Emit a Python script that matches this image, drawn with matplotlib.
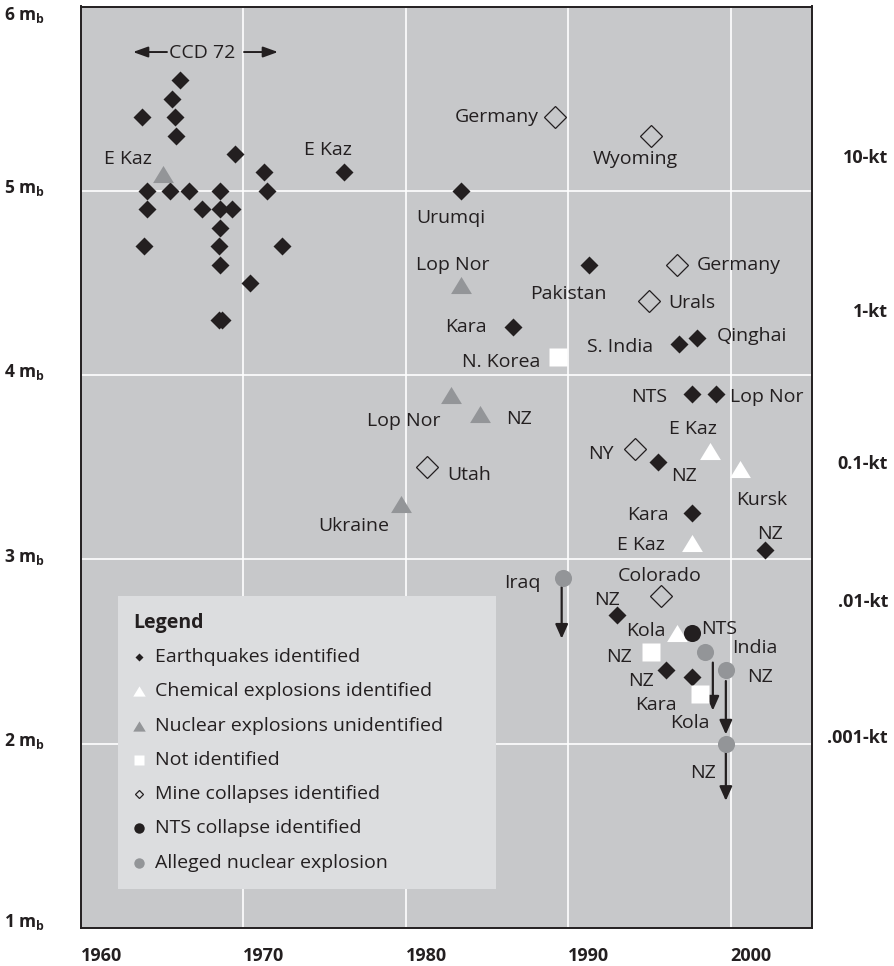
import matplotlib
matplotlib.use('Agg')
import matplotlib.pyplot as plt
import matplotlib.transforms as mtransforms
from matplotlib.path import Path
from matplotlib.patches import Rectangle

plt.rcParams['font.family'] = ['Open Sans', 'DejaVu Sans']
plt.rcParams['mathtext.fontset'] = 'custom'
plt.rcParams['mathtext.rm'] = 'Open Sans:bold'
plt.rcParams['mathtext.it'] = 'Open Sans:bold'
plt.rcParams['mathtext.bf'] = 'Open Sans:bold'

INK = '#231f20'
BG = '#c7c8ca'
LEGEND_BG = '#dcdddf'
GREY = '#939598'

# --- data: (year, magnitude mb) ---
quake_year = [1966.1, 1965.6, 1963.8, 1965.8, 1965.9, 1969.5, 1971.3, 1976.2,
              1964.1, 1965.5, 1966.7, 1968.6, 1971.5, 1964.1, 1967.5, 1968.6,
              1969.3, 1968.6, 1963.9, 1968.5, 1972.4, 1968.6, 1970.4, 1968.5,
              1968.7, 1983.4, 1991.3, 1986.6, 1996.8, 1997.9, 1997.6, 1999.1,
              1995.5, 1997.6, 2002.1, 1993.0, 1996.0, 1997.6]
quake_mb = [5.6, 5.5, 5.4, 5.4, 5.3, 5.2, 5.1, 5.1,
            5.0, 5.0, 5.0, 5.0, 5.0, 4.9, 4.9, 4.9,
            4.9, 4.8, 4.7, 4.7, 4.7, 4.6, 4.5, 4.3,
            4.3, 5.0, 4.6, 4.26, 4.17, 4.2, 3.9, 3.9,
            3.53, 3.25, 3.05, 2.7, 2.4, 2.36]

chem_year = [1998.7, 2000.6, 1997.6, 1996.7]
chem_mb = [3.59, 3.49, 3.09, 2.6]

nuclear_year = [1965.1, 1983.4, 1982.8, 1984.6, 1979.7]
nuclear_mb = [5.09, 4.49, 3.89, 3.79, 3.3]

notid_year = [1989.4, 1995.1, 1998.1]
notid_mb = [4.1, 2.5, 2.27]

mine_year = [1989.2, 1995.1, 1996.7, 1995.0, 1981.3, 1994.1, 1995.7]
mine_mb = [5.4, 5.3, 4.6, 4.4, 3.5, 3.6, 2.8]

nts_year = [1997.6]
nts_mb = [2.6]

alleged_year = [1989.7, 1998.4, 1999.7, 1999.7]
alleged_mb = [2.9, 2.5, 2.4, 2.0]

# downward arrows (upper bounds) below alleged events
arrow_year = [1989.6, 1998.9, 1999.7, 1999.7]
arrow_top = [2.85, 2.44, 2.34, 1.97]
arrow_tip = [2.57, 2.18, 2.05, 1.69]

place_names = ['E Kaz', 'E Kaz', 'Urumqi', 'Lop Nor', 'Germany', 'Wyoming',
               'Pakistan', 'Germany', 'Urals', 'Kara', 'N. Korea', 'S. India',
               'Qinghai', 'NTS', 'Lop Nor', 'Lop Nor', 'NZ', 'E Kaz', 'NY',
               'NZ', 'Utah', 'Kursk', 'Kara', 'E Kaz', 'NZ', 'Ukraine',
               'Colorado', 'Iraq', 'NZ', 'Kola', 'NTS', 'India', 'NZ', 'NZ',
               'NZ', 'Kara', 'Kola', 'NZ']
place_year = [1962.9, 1975.2, 1982.8, 1982.9, 1985.6, 1994.1,
              1990.0, 2000.5, 1997.6, 1983.7, 1985.9, 1993.2,
              2001.3, 1995.0, 2002.2, 1979.9, 1987.0, 1997.7, 1992.0,
              1997.1, 1983.9, 2001.9, 1994.9, 1994.5, 2002.4, 1976.8,
              1995.6, 1987.2, 1992.4, 1994.8, 1999.3, 2001.5, 1993.1, 2001.8,
              1994.5, 1995.4, 1997.5, 1998.3]
place_mb = [5.17, 5.22, 4.85, 4.60, 5.40, 5.17,
            4.44, 4.60, 4.39, 4.26, 4.07, 4.15,
            4.21, 3.88, 3.88, 3.75, 3.76, 3.71, 3.57,
            3.45, 3.46, 3.32, 3.24, 3.08, 3.14, 3.18,
            2.91, 2.87, 2.78, 2.61, 2.62, 2.52, 2.47, 2.36,
            2.34, 2.21, 2.11, 1.84]

mb_ticks = [6, 5, 4, 3, 2, 1]
year_ticks = [1960, 1970, 1980, 1990, 2000]
yield_labels = ['10-kt', '1-kt', '0.1-kt', '.01-kt', '.001-kt']
yield_mb = [5.18, 4.34, 3.52, 2.77, 2.03]

# flat triangle marker (wider than tall)
tri = Path([(-1, -0.82), (1, -0.82), (0, 0.82), (-1, -0.82)],
           [Path.MOVETO, Path.LINETO, Path.LINETO, Path.CLOSEPOLY])

fig = plt.figure(figsize=(8.94, 9.66), dpi=100)
ax = fig.add_axes([80.5 / 894, 1 - 928 / 966, (812 - 80.5) / 894, (928 - 6.5) / 966])
ax.set_facecolor(BG)
ax.set_xlim(1960, 2005)
ax.set_ylim(1, 6)

ax.set_xticks(year_ticks)
ax.set_xticklabels([str(y) for y in year_ticks], ha='left',
                   fontsize=13, fontweight='bold', color=INK)
ax.set_yticks([2, 3, 4, 5])
ax.set_yticklabels([])
ax.tick_params(length=0, pad=14)
ax.grid(color='white', lw=1.2)
ax.set_axisbelow(True)
for s in ax.spines.values():
    s.set_color(INK)
    s.set_linewidth(1.4)

# magnitude labels on the left, yield labels on the right
left_tr = mtransforms.blended_transform_factory(fig.transFigure, ax.transData)
for v in mb_ticks:
    yy = min(max(v, 1.02), 5.94) + 0.015
    ax.text(4 / 894, yy, f'{v} m$_\\mathrm{{b}}$', transform=left_tr,
            ha='left', va='center', fontsize=12.5, fontweight='bold', color=INK)
for lab, v in zip(yield_labels, yield_mb):
    ax.text(888 / 894, v, lab, transform=left_tr, ha='right', va='center',
            fontsize=13, fontweight='bold', color=INK)

# events
ax.plot(quake_year, quake_mb, 'D', ms=9.5, color=INK, mec='none', zorder=4)
ax.plot(chem_year, chem_mb, marker=tri, ls='none', ms=15, color='white', mec='none', zorder=4)
ax.plot(nuclear_year, nuclear_mb, marker=tri, ls='none', ms=15, color=GREY, mec='none', zorder=4)
ax.plot(notid_year, notid_mb, 's', ms=13, color='white', mec='none', zorder=4)
ax.plot(mine_year, mine_mb, 'D', ms=11, mfc='none', mec=INK, mew=0.9, zorder=4)
ax.plot(nts_year, nts_mb, 'o', ms=12.3, color=INK, mec='none', zorder=4)
ax.plot(alleged_year, alleged_mb, 'o', ms=12.3, color=GREY, mec='none', zorder=4)

for x, y0, y1 in zip(arrow_year, arrow_top, arrow_tip):
    ax.annotate('', xy=(x, y1), xytext=(x, y0),
                arrowprops=dict(arrowstyle='-|>,head_length=0.45,head_width=0.2',
                                mutation_scale=19, lw=1.6, color=INK,
                                shrinkA=0, shrinkB=0), zorder=3)

for name, x, y in zip(place_names, place_year, place_mb):
    ax.text(x, y, name, ha='center', va='center', fontsize=14, color=INK, zorder=5)

# CCD 72 span
ax.text(1967.48, 5.745, 'CCD 72', ha='center', va='center', fontsize=14, color=INK)
for x0, x1 in [(1965.32, 1963.23), (1970.06, 1972.15)]:
    ax.annotate('', xy=(x1, 5.753), xytext=(x0, 5.753),
                arrowprops=dict(arrowstyle='-|>,head_length=0.5,head_width=0.18',
                                mutation_scale=18, lw=1.4, color=INK,
                                shrinkA=0, shrinkB=0))

# legend box
ax.add_patch(Rectangle((0.0513, 0.0423), 0.5167, 0.318, transform=ax.transAxes,
                       facecolor=LEGEND_BG, edgecolor='none', zorder=6))
ax.text(0.0718, 0.331, 'Legend', transform=ax.transAxes, ha='left', va='center',
        fontsize=14, fontweight='bold', color=INK, zorder=7)
legend_items = [
    ('Earthquakes identified', dict(marker='D', ms=4.2, color=INK, mec='none')),
    ('Chemical explosions identified', dict(marker=tri, ms=9, color='white', mec='none')),
    ('Nuclear explosions unidentified', dict(marker=tri, ms=9, color=GREY, mec='none')),
    ('Not identified', dict(marker='s', ms=7.5, color='white', mec='none')),
    ('Mine collapses identified', dict(marker='D', ms=4.5, mfc='none', mec=INK, mew=0.9)),
    ('NTS collapse identified', dict(marker='o', ms=7.5, color=INK, mec='none')),
    ('Alleged nuclear explosion', dict(marker='o', ms=7.5, color=GREY, mec='none')),
]
row_y = [0.2941, 0.2572, 0.2192, 0.1823, 0.1454, 0.1085, 0.0705]
for (label, style), ry in zip(legend_items, row_y):
    ax.plot([0.0800], [ry], ls='none', transform=ax.transAxes, zorder=7,
            clip_on=False, **style)
    ax.text(0.1018, ry, label, transform=ax.transAxes, ha='left', va='center',
            fontsize=14, color=INK, zorder=7)

fig.savefig('out.png', dpi=100, facecolor='white')
